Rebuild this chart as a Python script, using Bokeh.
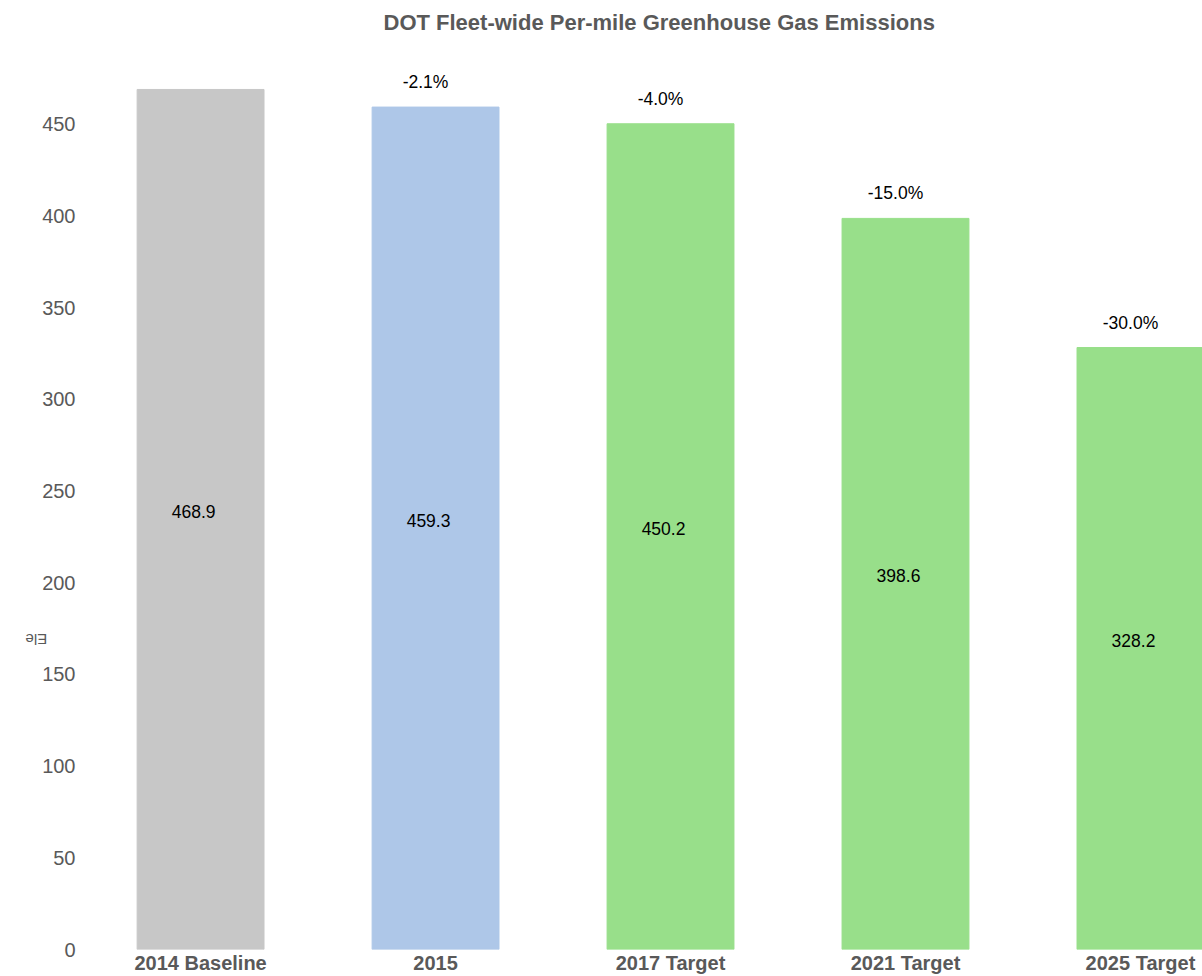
import math
from bokeh.plotting import figure
from bokeh.models import ColumnDataSource, FixedTicker, LinearAxis
from bokeh.embed import file_html
from bokeh.resources import INLINE

categories = ["2014 Baseline", "2015", "2017 Target", "2021 Target", "2025 Target"]
values = [468.9, 459.3, 450.2, 398.6, 328.2]
pct_labels = ["", "-2.1%", "-4.0%", "-15.0%", "-30.0%"]
colors = ["#c7c7c7", "#aec7e8", "#98df8a", "#98df8a", "#98df8a"]
y_ticks = [0, 50, 100, 150, 200, 250, 300, 350, 400, 450]
side_label = "Ele"
side_label_at = 169

FONT = "Liberation Sans"
GREY = "#595959"

xs = list(range(len(categories)))
src = ColumnDataSource(dict(
    x=xs, top=values, color=colors,
    mid=[v / 2 for v in values],
    vlab=[f"{v:.1f}" for v in values],
    pct=pct_labels,
))

p = figure(width=1202, height=976, output_backend="svg", toolbar_location=None,
           x_range=(-0.477, 4.264), y_range=(0, 494.5),
           min_border_left=88, min_border_right=0, min_border_top=0,
           min_border_bottom=24)
p.title.text = "DOT Fleet-wide Per-mile Greenhouse Gas Emissions"
p.title.align = "left"
p.title.offset = 295
p.title.text_font = FONT
p.title.text_font_size = "22px"
p.title.text_font_style = "bold"
p.title.text_color = GREY
p.title.standoff = 15

p.vbar(x="x", top="top", width=0.54, color="color", source=src)
p.text(x="x", y="mid", text="vlab", source=src, text_align="center",
       text_baseline="middle", x_offset=-7, y_offset=-8,
       text_font_size="17.5px", text_color="black", text_font={"value": FONT})
p.text(x="x", y="top", text="pct", source=src, text_align="center",
       text_baseline="bottom", x_offset=-10, y_offset=-15,
       text_font_size="17.5px", text_color="black", text_font={"value": FONT})

p.outline_line_color = None
p.grid.grid_line_color = None
p.background_fill_color = "white"
p.border_fill_color = "white"

p.xaxis.ticker = FixedTicker(ticks=xs)
p.xaxis.major_label_overrides = {i: c for i, c in zip(xs, categories)}
p.xaxis.major_label_text_font = FONT
p.xaxis.major_label_text_font_style = "bold"
p.xaxis.major_label_text_font_size = "20px"
p.xaxis.major_label_text_color = GREY
p.xaxis.major_label_standoff = 2

p.yaxis.ticker = FixedTicker(ticks=y_ticks)
p.yaxis.major_label_text_font = FONT
p.yaxis.major_label_text_font_size = "20px"
p.yaxis.major_label_text_color = GREY
p.yaxis.major_label_standoff = 13

side = LinearAxis(ticker=FixedTicker(ticks=[side_label_at]),
                  major_label_overrides={side_label_at: side_label},
                  major_label_orientation=math.pi,
                  major_label_text_font=FONT,
                  major_label_text_font_size="15px",
                  major_label_text_color=GREY,
                  major_label_standoff=14)
p.add_layout(side, "left")

for ax in (p.xaxis[0], p.yaxis[0], side):
    ax.axis_line_color = None
    ax.major_tick_line_color = None
    ax.minor_tick_line_color = None
    ax.major_tick_out = 0
    ax.major_tick_in = 0
    ax.minor_tick_out = 0
    ax.minor_tick_in = 0

open("out.html", "w").write(file_html(p, INLINE))
